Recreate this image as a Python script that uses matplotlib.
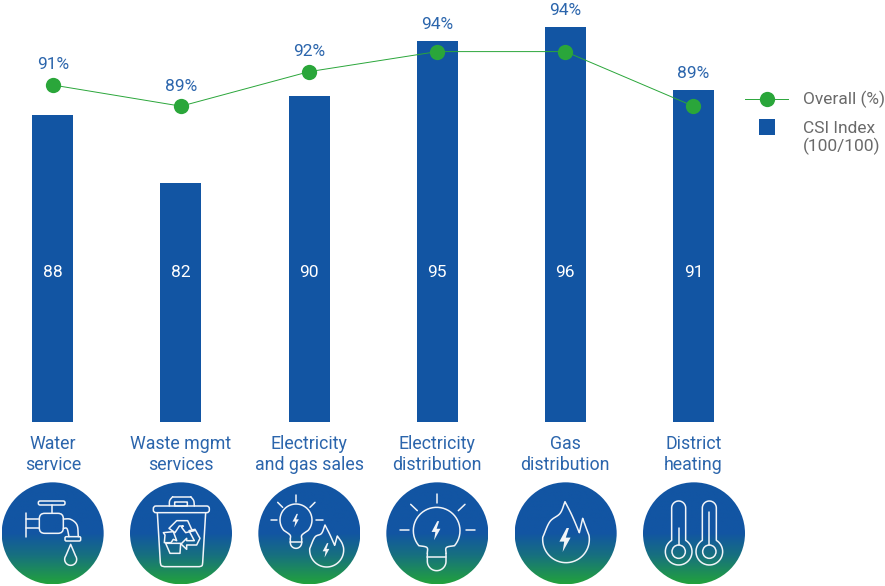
#!/usr/bin/env python3
import numpy as np
import matplotlib
matplotlib.use('Agg')
import matplotlib.pyplot as plt
from matplotlib.colors import LinearSegmentedColormap
from matplotlib.patches import Circle, FancyBboxPatch, Polygon
from matplotlib.transforms import Affine2D

# ── DATA ─────────────────────────────────────────────────────────────────────
categories = ['Water\nservice', 'Waste mgmt\nservices', 'Electricity\nand gas sales',
              'Electricity\ndistribution', 'Gas\ndistribution', 'District\nheating']
csi_heights = [88.1, 82.0, 89.8, 94.75, 96.0, 90.35]   # as drawn in the picture
csi_labels = ['88', '82', '90', '95', '96', '91']
overall_heights = [90.8, 88.9, 92.0, 93.8, 93.8, 88.9]
overall_labels = ['91%', '89%', '92%', '94%', '94%', '89%']

# ── STYLE ────────────────────────────────────────────────────────────────────
BLUE = '#1255A3'
GREEN = '#2AA63A'
TEXT_BLUE = '#2B65AC'
GREY = '#6A6A6A'
WHITE = '#F1F4F8'
W, H = 885, 586

plt.rcParams['font.family'] = ['Roboto', 'DejaVu Sans']

fig = plt.figure(figsize=(W / 100, H / 100), dpi=100)

# chart axes: baseline at y=422 px, 128.1 px between categories
BASE_PX = 422
PX_PER_UNIT = 11.14
ax = fig.add_axes([0, 1 - BASE_PX / H, 1, BASE_PX / H])
ax.set_xlim(-52.9 / 128.1, (W - 52.9) / 128.1)
y0 = 60.55
ax.set_ylim(y0, y0 + BASE_PX / PX_PER_UNIT)
for s in ax.spines.values():
    s.set_visible(False)
ax.set_yticks([])

x = np.arange(len(categories))
ax.bar(x, csi_heights, width=41 / 128.1, color=BLUE, zorder=1)
ax.plot(x, overall_heights, color=GREEN, lw=0.7, marker='o', ms=11, mew=0,
        mfc=GREEN, zorder=2)

for xi, lab in zip(x, csi_labels):
    ax.text(xi, y0 + 149 / PX_PER_UNIT, lab, color='white', fontsize=12.5,
            ha='center', va='center')

for xi, lab, b, o in zip(x, overall_labels, csi_heights, overall_heights):
    off = 12 if b > o else 14.5
    ax.annotate(lab, (xi, max(b, o)), xytext=(0, off), textcoords='offset points',
                color=TEXT_BLUE, fontsize=12.5, ha='center', va='center',
                annotation_clip=False)

ax.set_xticks(x)
ax.set_xticklabels(categories, color=TEXT_BLUE, fontsize=12.8, linespacing=1.2)
ax.tick_params(axis='x', length=0, pad=9.5)

# ── ICONS AND LEGEND ─────────────────────────────────────────────────────────
# overlay in 3x picture pixels, icons are drawn in local crop coordinates
ov = fig.add_axes([0, 0, 1, 1], zorder=5)
ov.set_axis_off()
ov.patch.set_alpha(0)

grad = LinearSegmentedColormap.from_list(
    'icon', [(0, BLUE), (0.5, BLUE), (0.72, '#17707F'), (1, '#22A23C')])
gradient = np.linspace(0, 1, 256).reshape(-1, 1)

R = 153
for cx in [158, 543, 928, 1312, 1697, 2082]:
    cy = 1600
    im = ov.imshow(gradient, cmap=grad, aspect='auto',
                   extent=(cx - R, cx + R, cy + R, cy - R), zorder=1)
    im.set_clip_path(Circle((cx, cy), R, transform=ov.transData))
ov.set_xlim(0, W * 3)
ov.set_ylim(H * 3, 0)

# legend, first row of the second entry carries the square
ov.plot([745 * 3, 788 * 3], [99 * 3, 99 * 3], color=GREEN, lw=0.7)
ov.plot([766.5 * 3], [99 * 3], 'o', color=GREEN, ms=11, mew=0)
ov.plot([766.5 * 3], [127 * 3], 's', color=BLUE, ms=11, mew=0)
ov.text(803 * 3, 99 * 3, 'Overall (%)', color=GREY, fontsize=12.5, va='center')
ov.text(803 * 3, 138 * 3, 'CSI Index\n(100/100)', color=GREY, fontsize=12.5, va='center',
        linespacing=1.2)


def smooth(pts, n=14):
    """Catmull-Rom through the waypoints."""
    p = np.array(pts, dtype=float)
    p = np.vstack([2 * p[0] - p[1], p, 2 * p[-1] - p[-2]])
    out = []
    for i in range(1, len(p) - 2):
        for t in np.linspace(0, 1, n, endpoint=False):
            out.append(0.5 * ((2 * p[i]) + (p[i + 1] - p[i - 1]) * t
                              + (2 * p[i - 1] - 5 * p[i] + 4 * p[i + 1] - p[i + 2]) * t ** 2
                              + (3 * p[i] - p[i - 1] - 3 * p[i + 1] + p[i + 2]) * t ** 3))
    out.append(p[-2])
    return np.array(out)


def arc(cx, cy, r, a0, a1, n=40):
    t = np.radians(np.linspace(a0, a1, n))
    return np.column_stack([cx + r * np.cos(t), cy + r * np.sin(t)])


class Icon:
    def __init__(self, ox, oy=1410, lw=1.1):
        self.tr = Affine2D().translate(ox, oy) + ov.transData
        self.lw = lw

    def line(self, pts, closed=False):
        pts = np.asarray(pts, dtype=float)
        ov.add_patch(Polygon(pts, closed=closed, fill=False, ec=WHITE, lw=self.lw,
                             joinstyle='round', capstyle='round',
                             transform=self.tr, zorder=3))

    def rrect(self, x0, y0_, x1, y1, rad):
        ov.add_patch(FancyBboxPatch((x0 + rad, y0_ + rad), x1 - x0 - 2 * rad, y1 - y0_ - 2 * rad,
                                    boxstyle=f'round,pad={rad},rounding_size={rad}',
                                    fill=False, ec=WHITE, lw=self.lw,
                                    transform=self.tr, zorder=3))

    def circle(self, cx, cy, r):
        ov.add_patch(Circle((cx, cy), r, fill=False, ec=WHITE, lw=self.lw,
                            transform=self.tr, zorder=3))

    def bolt(self, cx, cy, s):
        pts = np.array([(4, -30), (-14, 4), (-2, 4), (-6, 30), (14, -6), (2, -6), (10, -30)]) * s
        ov.add_patch(Polygon(pts + (cx, cy), closed=True, fc=WHITE, ec='none',
                             transform=self.tr, zorder=3))

    def bulb(self, cx, cy, r, base_w, neck_y, lines, cap_y):
        left = np.array([cx - base_w, neck_y])
        right = np.array([cx + base_w, neck_y])
        head = arc(cx, cy, r, 140, 400)
        self.line(np.vstack([smooth([left, (cx - base_w - 0.02 * r, neck_y - 0.25 * r), head[0]]), head,
                             smooth([head[-1], (cx + base_w + 0.02 * r, neck_y - 0.25 * r), right])]))
        for ly in lines:
            self.line([(cx - base_w, ly), (cx + base_w, ly)])
        self.line(np.vstack([[(cx - base_w, neck_y)],
                             arc(cx, cap_y - base_w, base_w, 180, 0),
                             [(cx + base_w, neck_y)]]))

    def flame(self, top, cx, cy, r, notch_top, notch_low):
        body = arc(cx, cy, r, 185, -10, 50)
        left = smooth([top, (top[0] - 0.21 * r, top[1] + 0.5 * r), (cx - 0.69 * r, cy - 0.76 * r), body[0]])
        right = smooth([body[-1], (cx + 0.88 * r, cy - 0.45 * r), notch_top])
        inner = smooth([notch_top, notch_low])
        back = smooth([notch_low, (top[0] + 0.29 * r, top[1] + 0.57 * r), top])
        self.line(np.vstack([left, body, right, inner, back]), closed=True)


# tap
a = Icon(0)
a.rrect(115, 93, 195, 105, 5)
a.line([(155, 105), (155, 130)])
a.rrect(118, 130, 190, 190, 16)
a.line([(78, 130), (78, 200)])
a.line([(78, 147), (118, 147)])
a.line([(78, 175), (118, 175)])
a.line(smooth([(190, 147), (212, 148), (231, 165), (235, 200)]))
a.line(smooth([(190, 175), (201, 176), (207, 200)]))
a.rrect(195, 200, 242, 213, 4)
a.line(np.vstack([[(212, 223)], arc(212, 268, 18, -35, 215)]), closed=True)

# bin with recycling arrows
b = Icon(0)
b.line(smooth([(508, 108), (509, 92), (518, 80)], 6))
b.line([(518, 80), (572, 80)])
b.line(smooth([(572, 80), (581, 92), (583, 108)], 6))
b.rrect(524, 96, 562, 108, 1)
b.rrect(460, 108, 628, 128, 8)
b.line(np.vstack([[(472, 128), (481, 278)], smooth([(481, 278), (484, 287), (493, 290)], 5),
                  [(598, 290)], smooth([(598, 290), (606, 287), (608, 278)], 5), [(617, 128)]]))
recycle_pieces = [
    [(95, 92), (128, 92), (140, 118), (148, 122), (122, 128), (110, 112), (115, 108),
     (103, 108), (90, 128), (72, 115)],
    [(132, 122), (150, 118), (165, 145), (155, 165), (125, 165), (125, 178), (108, 162),
     (125, 145), (125, 152), (148, 152)],
    [(62, 160), (107, 160), (105, 190), (75, 190)],
    [(58, 158), (60, 135), (55, 128), (85, 125), (95, 152), (85, 148), (78, 158)],
]
for piece in recycle_pieces:
    b.line(np.array(piece) + (435, 60), closed=True)

# bulb and flame
c = Icon(0)
c.bulb(888, 150, 48, 17, 207, [216], 235)
for p, q in [((887, 75), (887, 95)), ((833, 97), (848, 112)), ((945, 97), (930, 112)),
             ((812, 150), (832, 150)), ((947, 150), (968, 150))]:
    c.line([p, q])
c.bolt(887, 152, 0.68)
c.flame((975, 165), 980, 240, 51, (1012, 198), (1004, 226))
c.bolt(978, 241, 0.72)

# bulb
d = Icon(1140)
d.bulb(170, 182, 70, 28, 250, [262], 302)
for p, q in [((170, 72), (170, 100)), ((92, 103), (112, 122)), ((255, 103), (235, 122)),
             ((60, 181), (88, 181)), ((257, 181), (285, 181))]:
    d.line([p, q])
d.bolt(168, 182, 0.95)

# flame
e = Icon(1140)
e.flame((555, 95), 558, 208, 70, (608, 145), (598, 188))
e.bolt(555, 210, 1.2)

# thermometers
f = Icon(1140)
for cx, tip in [(896, 175), (988, 125)]:
    ang = np.degrees(np.arcsin(21 / 40))
    f.line(np.vstack([arc(cx, 114, 21, 180, 360), arc(cx, 245, 40, -90 + ang, 270 - ang)]),
           closed=True)
    f.circle(cx, 245, 20)
    f.line([(cx, tip), (cx, 225)])

fig.savefig('out.png', dpi=100)
